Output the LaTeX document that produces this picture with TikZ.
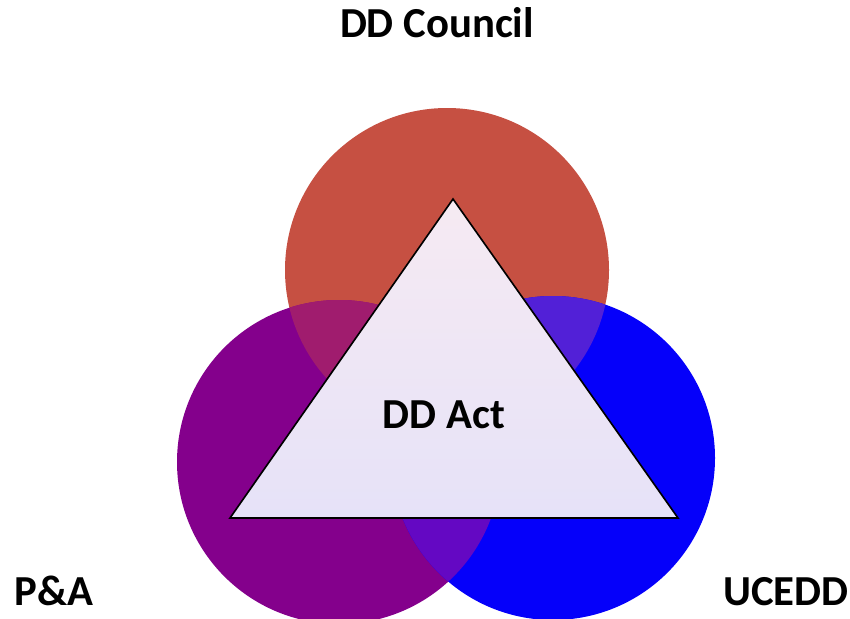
\documentclass[tikz,border=0pt]{standalone}
\usepackage{fontspec}
\setmainfont{Carlito}
\definecolor{council}{RGB}{198,80,66}
\definecolor{pna}{RGB}{132,0,140}
\definecolor{ucedd}{RGB}{5,0,250}
\definecolor{councilpna}{RGB}{160,28,110}
\definecolor{councilucedd}{RGB}{82,32,215}
\definecolor{pnaucedd}{RGB}{100,8,195}
\definecolor{acttop}{RGB}{246,234,242}
\definecolor{actbot}{RGB}{230,226,248}
\begin{document}
\begin{tikzpicture}
  [x=0.03cm, y=-0.03cm,
   tag/.style={font=\fontsize{36.5}{42}\selectfont\bfseries, inner sep=0pt, anchor=base},
   act/.style={draw=black, line width=1.4pt, top color=acttop, bottom color=actbot}]

  \useasboundingbox (0,0) rectangle (850,618);

  % Centros de los círculos
  \coordinate (cC) at (447,270);
  \coordinate (cP) at (339,462);
  \coordinate (cU) at (553,458);

  % Círculos
  \fill[council] (cC) circle (162);
  \fill[pna] (cP) circle (162);
  \fill[ucedd] (cU) circle (162);

  % Intersecciones
  \begin{scope}
    \clip (cC) circle (162);
    \fill[councilpna] (cP) circle (162);
  \end{scope}
  \begin{scope}
    \clip (cC) circle (162);
    \fill[councilucedd] (cU) circle (162);
  \end{scope}
  \begin{scope}
    \clip (cP) circle (162);
    \fill[pnaucedd] (cU) circle (162);
  \end{scope}

  % Triángulo
  \coordinate (t1) at (453,199);
  \coordinate (t2) at (230,518);
  \coordinate (t3) at (678,518);
  \path[act] (t1) -- (t2) -- (t3) -- cycle;

  % Etiquetas
  \node[tag] (council) at (437,38) {DD Council};
  \node[tag] (pa) at (54,605) {P\&A};
  \node[tag] (uc) at (786,605) {UCEDD};
  \node[tag] (dd) at (444,428) {DD Act};
\end{tikzpicture}
\end{document}
